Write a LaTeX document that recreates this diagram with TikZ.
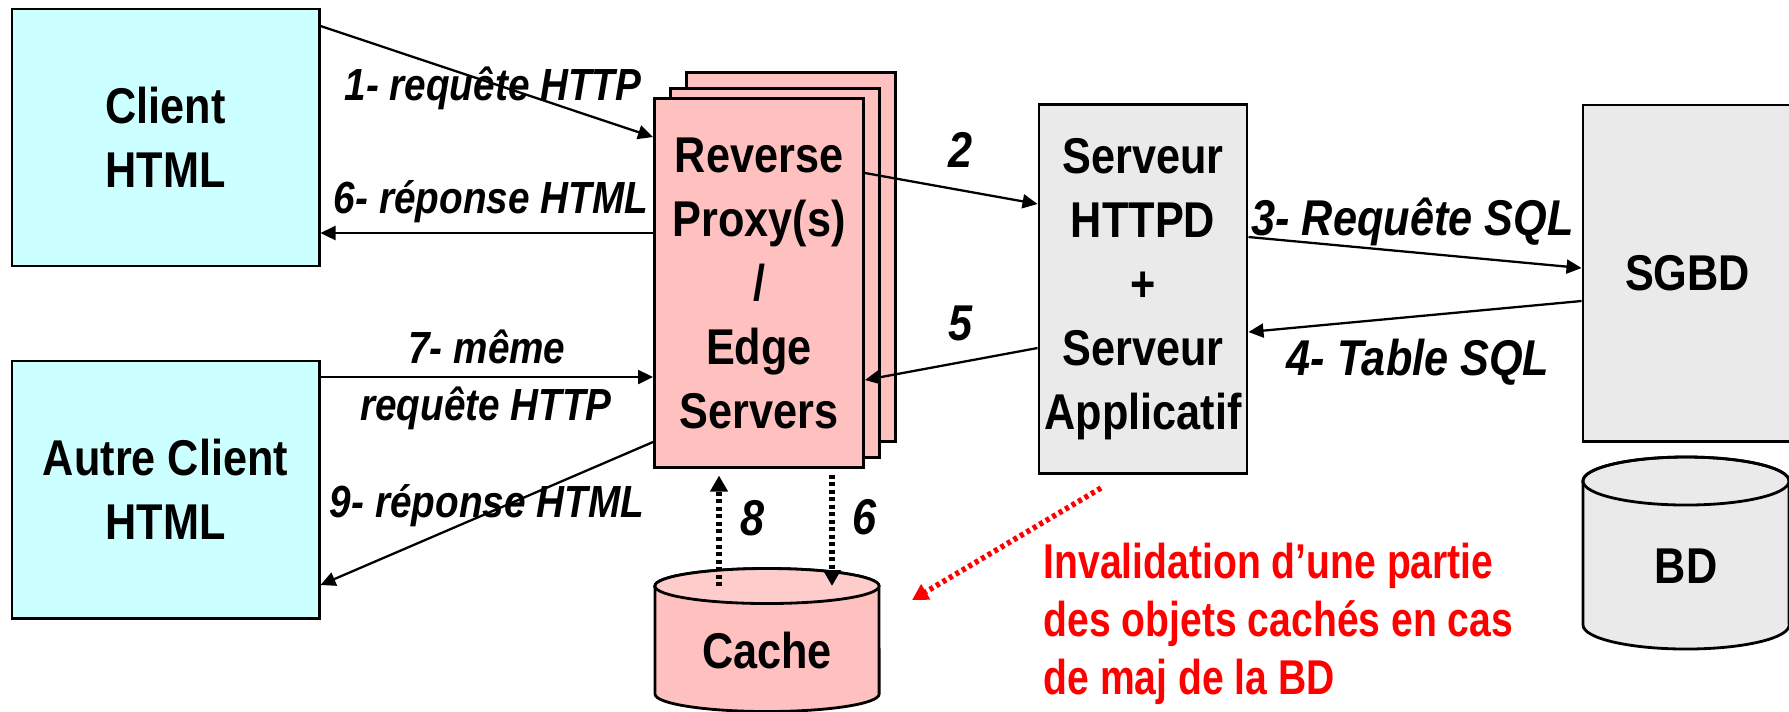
\documentclass[tikz,border=0pt]{standalone}
\usepackage{fontspec}
\setmainfont{Liberation Sans}[FakeStretch=0.86]
\newfontfamily\redfont{Liberation Sans}[FakeStretch=0.80]
\usetikzlibrary{arrows.meta}
\definecolor{clientcyan}{HTML}{CCFFFF}
\definecolor{proxypink}{HTML}{FFC0C0}
\definecolor{cachelight}{HTML}{FFCCCC}
\definecolor{servgrey}{HTML}{EAEAEA}
\definecolor{invalred}{HTML}{FF0000}
\newcommand\boxfont{\fontsize{14.3}{18.2}\selectfont\bfseries}
\newcommand\labfont{\fontsize{12.8}{16.2}\selectfont\bfseries\itshape}
\newcommand\numfont{\fontsize{14.3}{18.2}\selectfont\bfseries\itshape}
\newcommand\invalfont{\redfont\fontsize{13.9}{16.4}\selectfont\bfseries}
\tikzset{
  block/.style={draw, line width=0.8pt, align=center, inner sep=0pt, font=\boxfont},
  flow/.style={line width=0.65pt, -{Triangle[length=0.15cm,width=0.14cm]}},
  dotflow/.style={line width=0.055cm, dash pattern=on 0.04cm off 0.035cm, -{Triangle[length=0.16cm,width=0.17cm]}},
  lab/.style={anchor=base, inner sep=0pt, font=\labfont},
  num/.style={anchor=base, inner sep=0pt, font=\numfont},
  redline/.style={anchor=base west, inner sep=0pt, text=invalred, font=\invalfont},
}
\begin{document}
\begin{tikzpicture}[x=0.01cm, y=-0.01cm]
\useasboundingbox (0,0) rectangle (1789,711);
\clip (0,0) rectangle (1789,711);

\node[block, fill=clientcyan, minimum width=3.07cm, minimum height=2.57cm] (client) at (165.5,137.5) {Client\\HTML};
\node[block, fill=clientcyan, minimum width=3.07cm, minimum height=2.57cm] (autre) at (165.5,489.5) {Autre Client\\HTML};

\node[block, fill=proxypink, minimum width=2.09cm, minimum height=3.68cm] (proxyc) at (791,257) {};
\node[block, fill=proxypink, minimum width=2.09cm, minimum height=3.68cm] (proxyb) at (775,273) {};
\node[block, fill=proxypink, minimum width=2.09cm, minimum height=3.68cm] (proxy) at (759,283) {Reverse\\Proxy(s)\\/\\Edge\\Servers};

\node[block, fill=servgrey, minimum width=2.08cm, minimum height=3.68cm] (serveur) at (1143,289) {Serveur\\HTTPD\\+\\Serveur\\Applicatif};
\node[block, fill=servgrey, minimum width=2.09cm, minimum height=3.36cm] (sgbd) at (1687.5,273) {SGBD};

\filldraw[fill=proxypink, line width=0.8pt] (655,586) -- (655,694) arc[start angle=180, end angle=360, x radius=1.12cm, y radius=0.175cm] -- (879,586) arc[start angle=0, end angle=180, x radius=1.12cm, y radius=0.175cm] -- cycle;
\filldraw[fill=cachelight, line width=0.8pt] (767,586) ellipse [x radius=1.12cm, y radius=0.175cm];
\coordinate (cachetop) at (767,586);
\node[anchor=base, inner sep=0pt, font=\boxfont] (cache) at (767,668) {Cache};

\filldraw[fill=servgrey, line width=0.8pt] (1583,481) -- (1583,625) arc[start angle=180, end angle=360, x radius=1.03cm, y radius=0.24cm] -- (1789,481) arc[start angle=0, end angle=180, x radius=1.03cm, y radius=0.24cm] -- cycle;
\draw[line width=0.8pt] (1686,481) ellipse [x radius=1.03cm, y radius=0.24cm];
\node[anchor=base, inner sep=0pt, font=\boxfont] (bd) at (1686,583) {BD};

\node[lab] (l1) at (493,100) {1- requête HTTP};
\node[lab] (l6) at (491,213) {6- réponse HTML};
\node[lab] (l7) at (487,363) {7- même};
\node[lab] (l7b) at (486,420) {requête HTTP};
\node[lab] (l9) at (487,517) {9- réponse HTML};
\node[num] (l2) at (961,167) {2};
\node[num] (l5) at (961,340) {5};
\node[num] (l3) at (1412.5,235) {3- Requête SQL};
\node[num] (l4) at (1418,375) {4- Table SQL};
\node[num] (l8) at (753,535) {8};
\node[num] (l6c) at (865,534) {6};

\draw[flow] (client.east |- 0,26) -- (proxy.west |- 0,137);
\draw[flow] (proxy.west |- 0,233) -- (client.east |- 0,233);
\draw[flow] (autre.east |- 0,377) -- (proxy.west |- 0,377);
\draw[flow] (proxy.west |- 0,442) -- (autre.east |- 0,585);
\draw[flow] (proxy.east |- 0,173) -- (serveur.west |- 0,204);
\draw[flow] (serveur.west |- 0,348) -- (proxy.east |- 0,380);
\draw[flow] (serveur.east |- 0,237) -- (sgbd.west |- 0,268);
\draw[flow] (sgbd.west |- 0,301) -- (serveur.east |- 0,332);

\draw[dotflow, shorten >=0.07cm] (cachetop -| 719,0) -- (proxy.south -| 719,0);
\draw[dotflow, shorten <=0.06cm] (proxy.south -| 832,0) -- (cachetop -| 832,0);

\coordinate (invalfrom) at (1101,488);
\coordinate (invalto) at (912,600);
\draw[dotflow, invalred] (invalfrom) -- (invalto);

\node[redline] (inval1) at (1043,578) {Invalidation d’une partie};
\node[redline] (inval2) at (1043,636) {des objets cachés en cas};
\node[redline] (inval3) at (1043,694) {de maj de la BD};
\end{tikzpicture}
\end{document}
